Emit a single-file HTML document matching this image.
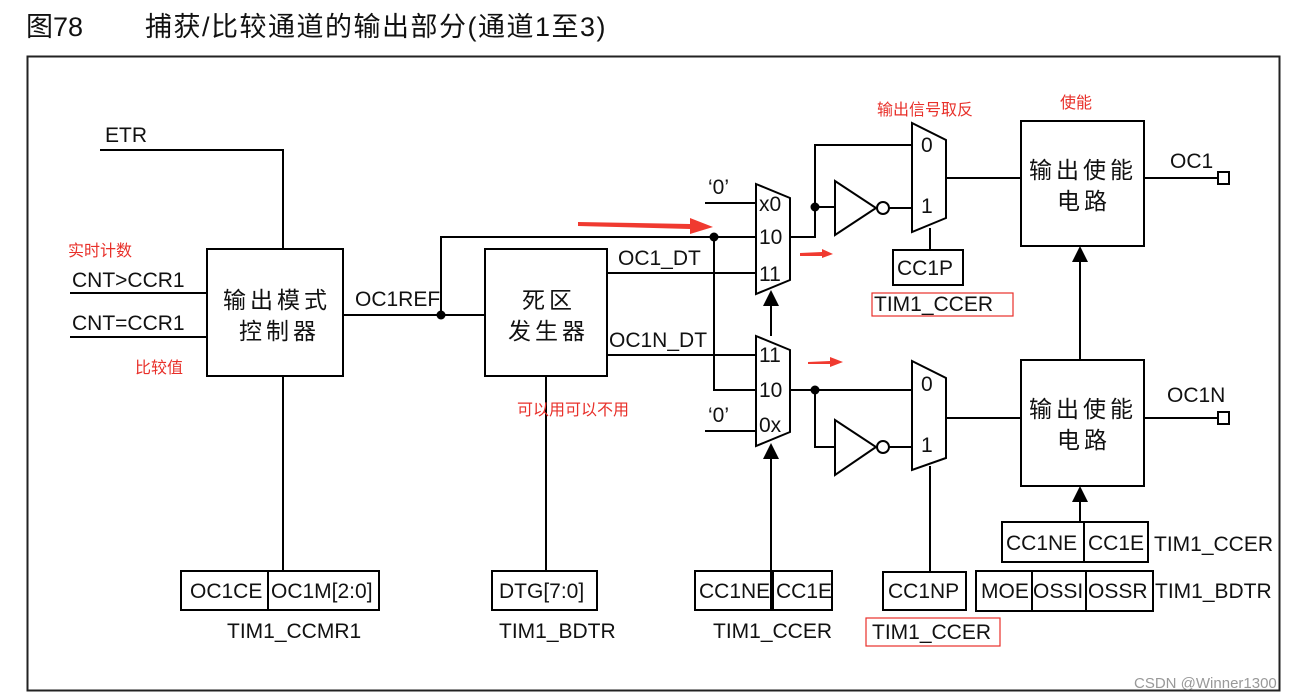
<!DOCTYPE html>
<html><head><meta charset="utf-8"><style>
body{margin:0;background:#fff}
svg{display:block}
text{font-family:"Liberation Sans","Noto Sans CJK SC",sans-serif;fill:#111}
.r{fill:#e8302a}
</style></head><body>
<svg width="1295" height="697" viewBox="0 0 1295 697" xmlns="http://www.w3.org/2000/svg">
<g font-size="27"><text x="26" y="36">图78</text><text x="145" y="36" letter-spacing="1.5">捕获/比较通道的输出部分(通道1至3)</text></g>
<rect x="27.5" y="56.5" width="1252" height="634" fill="none" stroke="#222" stroke-width="2"/>
<g stroke="#000" stroke-width="2" fill="none">
<polyline points="100,150 283,150 283,249"/>
<line x1="70" y1="293" x2="207" y2="293"/><line x1="70" y1="337" x2="207" y2="337"/>
<rect x="207" y="249" width="136" height="127"/>
<line x1="283" y1="376" x2="283" y2="571"/>
<rect x="181" y="571" width="198" height="39"/><line x1="268" y1="571" x2="268" y2="610"/>
<line x1="343" y1="315" x2="485" y2="315"/>
<polyline points="441,315 441,237 755,237"/>
<rect x="485" y="249" width="122" height="127"/>
<line x1="546" y1="376" x2="546" y2="571"/>
<rect x="492" y="571" width="105" height="39"/>
<line x1="607" y1="273" x2="755" y2="273"/><line x1="607" y1="355" x2="755" y2="355"/>
<polyline points="714,237 714,390 755,390"/>
<line x1="705" y1="203" x2="755" y2="203"/><line x1="705" y1="431" x2="755" y2="431"/>
<polygon points="756,184 790,198 790,280 756,294"/>
<polygon points="756,336 790,350 790,432 756,446"/>
<line x1="771" y1="336" x2="771" y2="305"/><line x1="771" y1="610" x2="771" y2="458"/>
<rect x="695" y="571" width="137" height="39"/><line x1="773" y1="571" x2="773" y2="610"/>
<polyline points="790,237 815,237 815,145 912,145"/>
<line x1="815" y1="207" x2="835" y2="207"/>
<polygon points="835,181 835,235 876,208"/><circle cx="883" cy="208" r="6" fill="#fff"/>
<line x1="889" y1="208" x2="912" y2="208"/>
<polygon points="912,123 946,140 946,218 912,232"/>
<line x1="930" y1="228" x2="930" y2="250"/>
<rect x="893" y="250" width="70" height="35"/>
<line x1="946" y1="178" x2="1021" y2="178"/>
<rect x="1021" y="121" width="123" height="125"/>
<line x1="1144" y1="178" x2="1218" y2="178"/><rect x="1218" y="172" width="11" height="12"/>
<line x1="1080" y1="360" x2="1080" y2="262"/>
<line x1="790" y1="390" x2="912" y2="390"/>
<polyline points="815,390 815,447 835,447"/>
<polygon points="835,420 835,475 876,447"/><circle cx="883" cy="447" r="6" fill="#fff"/>
<line x1="889" y1="447" x2="912" y2="447"/>
<polygon points="912,361 946,378 946,458 912,470"/>
<line x1="930" y1="466" x2="930" y2="572"/>
<rect x="883" y="572" width="83" height="38"/>
<line x1="946" y1="418" x2="1021" y2="418"/>
<rect x="1021" y="360" width="123" height="126"/>
<line x1="1144" y1="418" x2="1218" y2="418"/><rect x="1218" y="412" width="11" height="12"/>
<line x1="1080" y1="522" x2="1080" y2="500"/>
<rect x="1002" y="522" width="146" height="40"/><line x1="1084" y1="522" x2="1084" y2="562"/>
<rect x="976" y="571" width="177" height="40"/><line x1="1032" y1="571" x2="1032" y2="611"/><line x1="1086" y1="571" x2="1086" y2="611"/>
</g>
<g fill="#000">
<circle cx="441" cy="315" r="4.5"/><circle cx="714" cy="237" r="4.5"/>
<circle cx="815" cy="207" r="4.5"/><circle cx="815" cy="390" r="4.5"/>
<polygon points="771,290 763,306 779,306"/><polygon points="771,443 763,459 779,459"/>
<polygon points="1080,246 1072,262 1088,262"/><polygon points="1080,486 1072,502 1088,502"/>
</g>
<g font-size="21">
<text x="105" y="142">ETR</text><text x="72" y="287">CNT&gt;CCR1</text><text x="72" y="330">CNT=CCR1</text>
<text x="355" y="306">OC1REF</text><text x="618" y="265">OC1_DT</text><text x="609" y="347">OC1N_DT</text>
<text x="708" y="194">‘0’</text><text x="708" y="422">‘0’</text>
<text x="759" y="211">x0</text><text x="759" y="244">10</text><text x="759" y="281">11</text>
<text x="759" y="362">11</text><text x="759" y="397">10</text><text x="759" y="432">0x</text>
<text x="921" y="152">0</text><text x="921" y="213">1</text><text x="921" y="391">0</text><text x="921" y="452">1</text>
<text x="1170" y="168">OC1</text><text x="1167" y="402">OC1N</text>
<text x="897" y="275">CC1P</text><text x="874" y="311">TIM1_CCER</text>
<text x="888" y="598">CC1NP</text><text x="872" y="639">TIM1_CCER</text>
<text x="190" y="598">OC1CE</text><text x="271" y="598">OC1M[2:0]</text><text x="227" y="638">TIM1_CCMR1</text>
<text x="499" y="598">DTG[7:0]</text><text x="499" y="638">TIM1_BDTR</text>
<text x="699" y="598">CC1NE</text><text x="776" y="598">CC1E</text><text x="713" y="638">TIM1_CCER</text>
<text x="1006" y="550">CC1NE</text><text x="1088" y="550">CC1E</text><text x="1154" y="551">TIM1_CCER</text>
<text x="981" y="598">MOE</text><text x="1033" y="598">OSSI</text><text x="1088" y="598">OSSR</text><text x="1155" y="598">TIM1_BDTR</text>
</g>
<g font-size="23" letter-spacing="4">
<text x="223" y="308">输出模式</text><text x="239" y="339">控制器</text>
<text x="522" y="308">死区</text><text x="508" y="339">发生器</text>
<text x="1029" y="178">输出使能</text><text x="1057" y="209">电路</text>
<text x="1029" y="417">输出使能</text><text x="1057" y="448">电路</text>
</g>
<g fill="none" stroke="#e8302a" stroke-width="1.2">
<rect x="872" y="293" width="141" height="23"/><rect x="866" y="618" width="134" height="28"/>
</g>
<g font-size="16">
<text class="r" x="68" y="256">实时计数</text><text class="r" x="135" y="373">比较值</text>
<text class="r" x="877" y="115">输出信号取反</text><text class="r" x="1060" y="108">使能</text>
<text class="r" x="517" y="415">可以用可以不用</text>
</g>
<g fill="#f03a30">
<polygon points="578,222 690,224 690,218 713,227 690,234 690,229 578,226"/>
<polygon points="800,253 822,252 822,249 833,254 822,258 822,256 800,256"/>
<polygon points="808,362 830,361 830,357 843,362 830,367 830,364 808,364"/>
</g>
<text x="1134" y="688" font-size="15" style="fill:#999">CSDN @Winner1300</text>
</svg>
</body></html>
